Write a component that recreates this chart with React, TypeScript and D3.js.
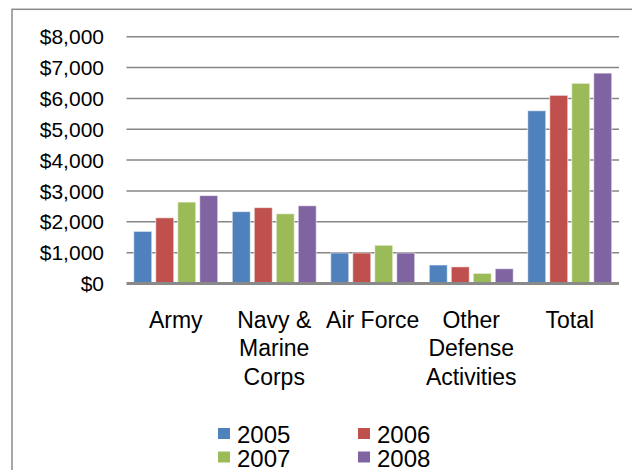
import * as d3 from 'd3';
import { useEffect, useRef } from 'react';

// categories (line breaks as in the original axis labels)
const categories = ['Army', 'Navy &\nMarine\nCorps', 'Air Force', 'Other\nDefense\nActivities', 'Total'];
const years = ['2005', '2006', '2007', '2008'];
const colors = ['#4F81BD', '#C0504D', '#9BBB59', '#8064A2'];

// values in millions of dollars, per year
const v2005 = [1690, 2330, 990, 600, 5600];
const v2006 = [2130, 2460, 990, 540, 6100];
const v2007 = [2640, 2260, 1240, 330, 6490];
const v2008 = [2850, 2520, 990, 480, 6820];
const seriesValues = [v2005, v2006, v2007, v2008];

const yTicks = [0, 1000, 2000, 3000, 4000, 5000, 6000, 7000, 8000];

export default function App() {
    const ref = useRef(null);

    useEffect(() => {
        const width = 632;
        const height = 470;
        const plot = { left: 126.5, right: 619, top: 36.7, bottom: 283.5 };
        const font = "'Liberation Sans', Arial, sans-serif";

        const svg = d3.select(ref.current)
            .append('svg')
            .attr('width', width)
            .attr('height', height)
            .style('position', 'absolute')
            .style('left', 0)
            .style('top', 0)
            .style('background', '#fff');

        // outer chart border (right/bottom edges fall off the page)
        svg.append('rect')
            .attr('x', 12)
            .attr('y', 9.3)
            .attr('width', 700)
            .attr('height', 600)
            .attr('fill', 'none')
            .attr('stroke', '#8a8a8a')
            .attr('stroke-width', 1.5);

        const x0 = d3.scaleBand()
            .domain(categories)
            .range([plot.left, plot.right])
            .paddingInner(0.107)
            .paddingOuter(0.0535);

        const x1 = d3.scaleBand()
            .domain(years)
            .range([0, x0.bandwidth()])
            .paddingInner(0.18)
            .paddingOuter(0.09);

        const y = d3.scaleLinear()
            .domain([0, 8000])
            .range([plot.bottom, plot.top]);

        // gridlines
        svg.append('g')
            .selectAll('line')
            .data(yTicks.filter((t) => t > 0))
            .join('line')
            .attr('x1', plot.left)
            .attr('x2', plot.right)
            .attr('y1', (d) => y(d))
            .attr('y2', (d) => y(d))
            .attr('stroke', '#868686')
            .attr('stroke-width', 1.5);

        // y labels
        const fmt = d3.format(',');
        svg.append('g')
            .selectAll('text')
            .data(yTicks)
            .join('text')
            .attr('x', 104)
            .attr('y', (d) => y(d))
            .attr('dy', '0.36em')
            .attr('text-anchor', 'end')
            .style('font-family', font)
            .style('font-size', '21px')
            .attr('fill', '#000')
            .text((d) => '$' + fmt(d));

        // bars
        const groups = svg.append('g')
            .selectAll('g')
            .data(categories)
            .join('g')
            .attr('transform', (d) => `translate(${x0(d)},0)`);

        groups.selectAll('rect')
            .data((d, i) => years.map((yr, k) => ({ yr, k, v: seriesValues[k][i] })))
            .join('rect')
            .attr('x', (d) => x1(d.yr))
            .attr('y', (d) => y(d.v))
            .attr('width', x1.bandwidth())
            .attr('height', (d) => y(0) - y(d.v))
            .attr('fill', (d) => colors[d.k])
            .attr('stroke', '#ffffff')
            .attr('stroke-opacity', 0.6)
            .attr('stroke-width', 1);

        // baseline
        svg.append('line')
            .attr('x1', plot.left)
            .attr('x2', plot.right)
            .attr('y1', y(0))
            .attr('y2', y(0))
            .attr('stroke', '#898989')
            .attr('stroke-width', 3);

        // category labels
        const lineH = 28.3;
        svg.append('g')
            .selectAll('text')
            .data(categories)
            .join('text')
            .attr('x', (d) => x0(d) + x0.bandwidth() / 2)
            .attr('y', 328)
            .attr('text-anchor', 'middle')
            .style('font-family', font)
            .style('font-size', '23px')
            .attr('fill', '#000')
            .each(function (d) {
                const t = d3.select(this);
                const cx = x0(d) + x0.bandwidth() / 2;
                d.split('\n').forEach((line, i) => {
                    t.append('tspan')
                        .attr('x', cx)
                        .attr('dy', i === 0 ? 0 : lineH)
                        .text(line);
                });
            });

        // legend, 2 x 2
        const legend = svg.append('g')
            .selectAll('g')
            .data(years)
            .join('g')
            .attr('transform', (d, i) => `translate(${218 + (i % 2) * 140},${443 + Math.floor(i / 2) * 23.5})`);

        legend.append('rect')
            .attr('x', 0)
            .attr('y', -15)
            .attr('width', 12)
            .attr('height', 11)
            .attr('fill', (d, i) => colors[i]);

        legend.append('text')
            .attr('x', 19)
            .attr('y', 0)
            .style('font-family', font)
            .style('font-size', '24px')
            .attr('fill', '#000')
            .text((d) => d);

        return () => {
            d3.select(ref.current).selectAll('*').remove();
        };
    }, []);

    return <div ref={ref}></div>;
}
